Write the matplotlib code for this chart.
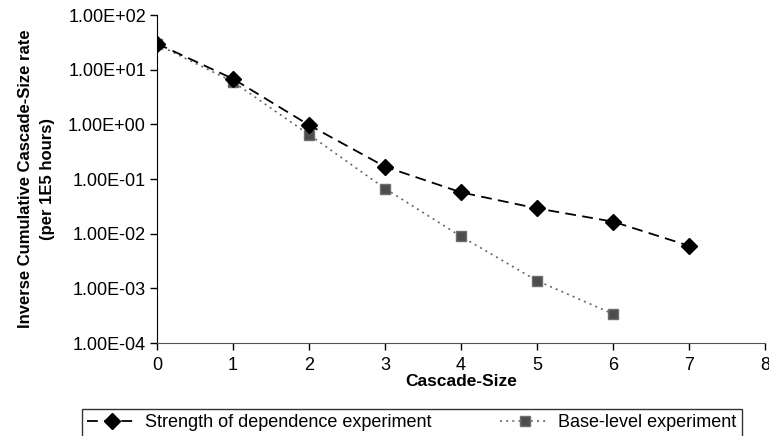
import matplotlib
matplotlib.use('Agg')
import matplotlib.pyplot as plt
from matplotlib.ticker import FuncFormatter, NullLocator, FixedLocator

plt.rcParams['font.family'] = ['Liberation Sans', 'DejaVu Sans']

# cascade size on x, inverse cumulative rate (per 1E5 hours) on y
sizeStrength = [0, 1, 2, 3, 4, 5, 6, 7]
rateStrength = [30, 6.8, 0.97, 0.168, 0.057, 0.029, 0.0166, 0.006]
sizeBase = [0, 1, 2, 3, 4, 5, 6]
rateBase = [29, 6.0, 0.65, 0.067, 0.0089, 0.00138, 0.00034]

labelStrength = "Strength of dependence experiment"
labelBase = "Base-level experiment"

fig = plt.figure(figsize=(7.69, 4.36), dpi=100)
ax = fig.add_axes([157/769, 1 - 343/436, 608/769, 328/436])

ax.plot(sizeStrength, rateStrength, color='black', linestyle=(0, (6, 3.5)), linewidth=1.3,
        marker='D', markersize=8, markerfacecolor='black', markeredgecolor='black',
        label=labelStrength, zorder=3)
ax.plot(sizeBase, rateBase, color='#666666', linestyle=(0, (1.2, 2.5)), linewidth=1.2,
        marker='s', markersize=7.5, markerfacecolor='#4d4d4d', markeredgecolor='#6e6e6e',
        label=labelBase, zorder=2)

ax.set_yscale('log')
ax.set_ylim(1e-4, 1e2)
ax.set_xlim(0, 8)
ax.yaxis.set_major_locator(FixedLocator([1e-4, 1e-3, 1e-2, 1e-1, 1e0, 1e1, 1e2]))
ax.yaxis.set_minor_locator(NullLocator())
ax.yaxis.set_major_formatter(FuncFormatter(lambda v, p: "{:.2E}".format(v)))
ax.set_xticks(range(0, 9))

for s in ['top', 'right']:
    ax.spines[s].set_visible(False)
ax.spines['left'].set_color('black')
ax.spines['bottom'].set_color('#555555')
ax.tick_params(axis='both', direction='out', length=5, width=1, labelsize=13)
ax.tick_params(axis='y', pad=3)
ax.tick_params(axis='x', pad=5)

ax.set_xlabel("Cascade-Size", fontsize=12.5, fontweight='bold', labelpad=0)
ax.set_ylabel("Inverse Cumulative Cascade-Size rate\n(per 1E5 hours)", fontsize=12,
              fontweight='bold', linespacing=1.55)
ax.yaxis.set_label_coords(-0.168, 0.5)

leg = fig.legend(loc='upper left', bbox_to_anchor=(82/769, 1 - 409/436),
                 ncol=2, frameon=True, fancybox=False, fontsize=13,
                 handlelength=2.7, handletextpad=0.5, columnspacing=3.8,
                 borderpad=0.3, borderaxespad=0)
leg.get_frame().set_edgecolor('black')
leg.get_frame().set_linewidth(1)

plt.savefig("out.png", dpi=100)
